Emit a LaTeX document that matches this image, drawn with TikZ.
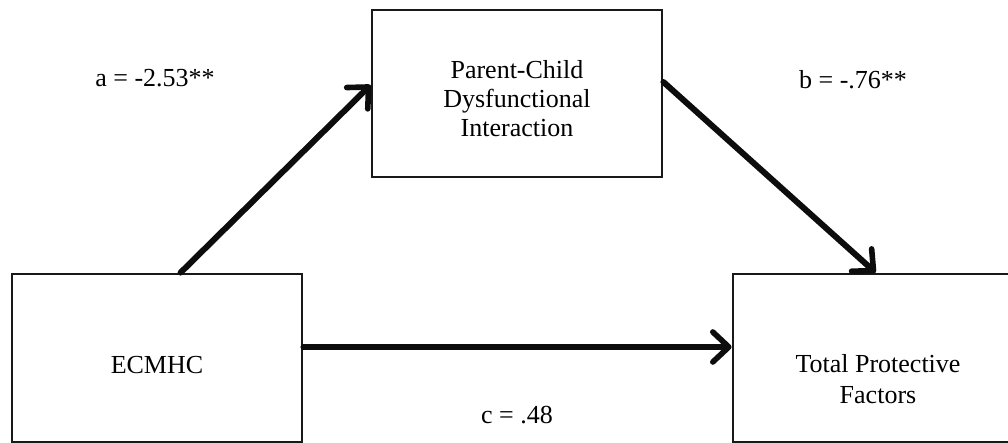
\documentclass[tikz,border=0pt]{standalone}
\usepackage{fontspec}
\setmainfont{Liberation Serif}
\usetikzlibrary{arrows.meta,calc}
\begin{document}
\begin{tikzpicture}[x=0.5pt,y=-0.5pt,
  box/.style={draw=black!90,line width=1.4pt,rectangle,inner sep=0pt},
  path/.style={line width=3pt,line cap=round,draw=black!95,
    -{Straight Barb[length=8pt,width=15pt,line width=2.8pt,round]}},
  lab/.style={font=\fontsize{13}{15}\selectfont,inner sep=0pt,align=center}]
\useasboundingbox (0,0) rectangle (1008,443);
\fill[white] (0,0) rectangle (1008,443);
\node[box,minimum width=145pt,minimum height=83.5pt] (pc) at (517,93.5) {};
\node[box,minimum width=145pt,minimum height=84pt] (ecm) at (157,358) {};
\node[box,minimum width=140pt,minimum height=84pt] (tpf) at (873,358) {};
\node[lab,font=\fontsize{13}{14.5}\selectfont] (pct) at (517,99)
  {Parent-Child\\Dysfunctional\\Interaction};
\node[lab] (ecmt) at (157,365) {ECMHC};
\node[lab,font=\fontsize{13}{15.5}\selectfont] (tpft) at (878,379) {Total Protective\\Factors};
\coordinate (a0) at ($(ecm.north west)+(170,0)$);
\coordinate (a1) at ($(pc.west)+(0,-8.5)$);
\coordinate (b0) at ($(pc.east)+(0,-11.5)$);
\coordinate (b1) at ($(tpf.north west)+(144,0)$);
\coordinate (c0) at ($(ecm.east)+(0,-11)$);
\coordinate (c1) at ($(tpf.west)+(0,-11)$);
\draw[path] (a0) -- (a1);
\draw[path] (b0) -- (b1);
\draw[path] (c0) -- (c1);
\node[lab] (la) at (155,78) {a = -2.53**};
\node[lab] (lb) at (853,80) {b = -.76**};
\node[lab] (lc) at (517,415) {c = .48};
\end{tikzpicture}
\end{document}
